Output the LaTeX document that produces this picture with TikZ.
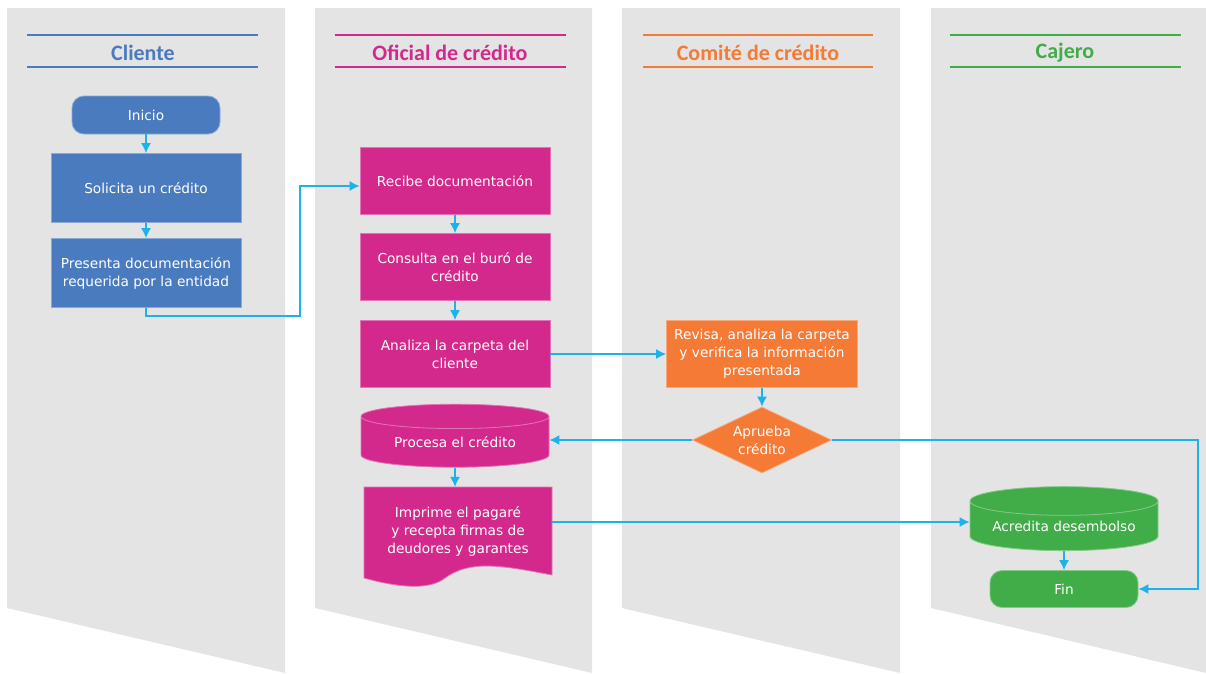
\documentclass[tikz,border=0pt]{standalone}
\usepackage{fontspec}
\setmainfont{DejaVu Sans}
\newfontfamily\titlefont{Carlito}
\usepackage{tikz}
\usetikzlibrary{arrows.meta,shapes.geometric}
\definecolor{cblue}{HTML}{4A7BBE}
\definecolor{cmag}{HTML}{D4298C}
\definecolor{corange}{HTML}{F47A36}
\definecolor{cgreen}{HTML}{41AD49}
\definecolor{clane}{HTML}{E4E4E4}
\definecolor{cflow}{HTML}{1CB2EC}
\tikzset{>={Latex[length=10pt,width=10pt]}}
\tikzset{
  lane/.style={fill=clane},
  title/.style={font=\titlefont\bfseries\fontsize{22}{24}\selectfont},
  rule/.style={draw=#1, line width=1.5pt},
  label/.style={text=white, align=center, inner sep=0pt, font=\fontsize{13.7}{18}\selectfont},
  box/.style={label, rectangle, fill=#1, draw=#1!65!white, line width=0.8pt},
  term/.style={box=#1, rounded corners=12pt},
  drum/.style={box=#1, cylinder, shape border rotate=90, aspect=0.2},
  flow/.style={->, draw=cflow, line width=1.4pt}
}

\begin{document}
\begin{tikzpicture}[x=1pt,y=-1pt]
            \useasboundingbox (0,0) rectangle (1206,673);
            \foreach \l/\r in {7/285, 315/592, 622/900, 931/1206}
              \fill[lane] (\l,8) -- (\r,8) -- (\r,673) -- (\l,608) -- cycle;
            % lane headers
            \node[title, text=cblue] (tcliente) at (143,53) {Cliente};
            \node[title, text=cmag] (toficial) at (450,53) {Oficial de crédito};
            \node[title, text=corange] (tcomite) at (758,53) {Comité de crédito};
            \node[title, text=cgreen] (tcajero) at (1065,53) {Cajero};
            \draw[rule=cblue] (27,35) -- (258,35) (27,67) -- (258,67);
            \draw[rule=cmag] (335,35) -- (566,35) (335,67) -- (566,67);
            \draw[rule=corange] (643,35) -- (873,35) (643,67) -- (873,67);
            \draw[rule=cgreen] (950,35) -- (1181,35) (950,67) -- (1181,67);
            % cliente
            \node[term=cblue, minimum width=148, minimum height=38] (inicio) at (146,115) {Inicio};
            \node[box=cblue, minimum width=190, minimum height=69] (solicita) at (146,188) {Solicita un crédito};
            \node[box=cblue, minimum width=190, minimum height=69] (presenta) at (146,273) {Presenta documentación\\requerida por la entidad};
            % oficial de credito
            \node[box=cmag, minimum width=190, minimum height=67] (recibe) at (455,181) {Recibe documentación};
            \node[box=cmag, minimum width=190, minimum height=67] (consulta) at (455,267) {Consulta en el buró de\\crédito};
            \node[box=cmag, minimum width=190, minimum height=67] (analiza) at (455,354) {Analiza la carpeta del\\cliente};
            \node[drum=cmag, minimum width=188, minimum height=63] (procesa) at (455,442) {Procesa el crédito};
            \coordinate (imprime) at (458,531);
            \fill[cmag, draw=cmag!65!white, line width=0.8pt] (364,487) -- (552,487) -- (552,575)
              .. controls +(-52,-10) and +(25,-18) .. ++(-107,3)
              .. controls +(-15,12) and +(36,10) .. ++(-81,0) -- cycle;
            \node[label, minimum width=188, minimum height=88] (imprimetxt) at (imprime) {Imprime el pagaré\\y recepta firmas de\\deudores y garantes};
            % comite de credito
            \node[box=corange, minimum width=191, minimum height=67] (revisa) at (762,354) {Revisa, analiza la carpeta\\y verifica la información\\presentada};
            \node[box=corange, diamond, aspect=2.1, minimum width=139, minimum height=66] (aprueba) at (762,440) {Aprueba\\crédito};
            % cajero
            \node[drum=cgreen, minimum width=188, minimum height=64] (acredita) at (1064,526) {Acredita desembolso};
            \node[term=cgreen, minimum width=148, minimum height=37] (fin) at (1064,589) {Fin};
            % flujo
            \draw[flow] (inicio) -- (solicita);
            \draw[flow] (solicita) -- (presenta);
            \draw[flow] (presenta.south) |- (300,316) |- ([yshift=-5pt]recibe.west);
            \draw[flow] (recibe) -- (consulta);
            \draw[flow] (consulta) -- (analiza);
            \draw[flow] (analiza) -- (revisa);
            \draw[flow] (revisa) -- (aprueba);
            \draw[flow] (aprueba.west) -- (aprueba.west -| procesa.east);
            \draw[flow] (aprueba.east) -- (1198,440) |- (fin.east);
            \draw[flow] (procesa.south) -- (procesa.south |- imprimetxt.north);
            \draw[flow] ([yshift=9pt]imprimetxt.east) -- ([yshift=9pt]imprimetxt.east -| acredita.west);
            \draw[flow] (acredita.south) -- (fin.north);
        \end{tikzpicture}
\end{document}
